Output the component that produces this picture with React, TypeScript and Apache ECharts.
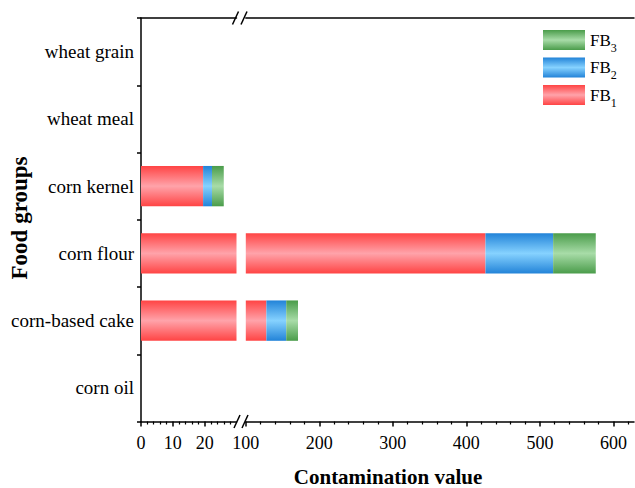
import React, { useEffect, useRef } from 'react';
import * as echarts from 'echarts';

// Food groups, bottom to top on the category axis
const categories = ['corn oil', 'corn-based cake', 'corn flour', 'corn kernel', 'wheat meal', 'wheat grain'];

// Contamination value per group and fraction
const fb1 = [null, 128, 426, 19.5, null, null];
const fb2 = [null, 27, 92, 2.8, null, null];
const fb3 = [null, 16, 58, 3.7, null, null];

// Broken x axis: low segment 0–30, high segment 100–628
const lowRange = [0, 30];
const highRange = [100, 628];
const lowTicks = [0, 10, 20];
const lowMinorTicks = [2, 4, 6, 8, 12, 14, 16, 18, 22, 24, 26, 28];
const highTicks = [100, 200, 300, 400, 500, 600];
const highMinorTicks = [120, 140, 160, 180, 220, 240, 260, 280, 320, 340, 360, 380, 420, 440, 460, 480, 520, 540, 560, 580, 620];

const legendOrder = ['FB3', 'FB2', 'FB1'];

const FONT = "'Liberation Serif', 'Times New Roman', serif";
const INK = '#000';

const band = (edge: string, mid: string) =>
  new echarts.graphic.LinearGradient(0, 0, 0, 1, [
    { offset: 0, color: edge },
    { offset: 0.5, color: mid },
    { offset: 1, color: edge },
  ]);

const fills: Record<string, any> = {
  FB1: band('#ff4444', '#ffa3aa'),
  FB2: band('#2283d8', '#86d2ff'),
  FB3: band('#4a9c4a', '#a8dca8'),
};

const seriesData: Record<string, (number | null)[]> = { FB1: fb1, FB2: fb2, FB3: fb3 };

export default function App() {
  const ref = useRef<HTMLDivElement>(null);

  useEffect(() => {
    if (!ref.current) return;
    const chart = echarts.init(ref.current, undefined, { renderer: 'svg' });

    const grids = [
      { left: 141, top: 18, width: 95.5, height: 403.5 },
      { left: 245.8, top: 18, width: 388.2, height: 403.5 },
    ];

    const axisLine = { show: true, lineStyle: { color: INK, width: 1.5 } };

    const segmentAxes = (gridIndex: number, range: number[], major: number[], minor: number[]) => [
      {
        type: 'value',
        gridIndex,
        position: 'bottom',
        min: range[0],
        max: range[1],
        axisLine,
        axisTick: { show: true, inside: false, length: 5, customValues: major, lineStyle: { color: INK, width: 1.5 } },
        axisLabel: { show: true, customValues: major, margin: 12, fontSize: 18, color: INK, fontFamily: FONT },
        splitLine: { show: false },
      },
      {
        type: 'value',
        gridIndex,
        position: 'bottom',
        min: range[0],
        max: range[1],
        axisLine: { show: false },
        axisTick: { show: true, inside: false, length: 3, customValues: minor, lineStyle: { color: INK, width: 1.2 } },
        axisLabel: { show: false },
        splitLine: { show: false },
      },
      {
        type: 'value',
        gridIndex,
        position: 'top',
        min: range[0],
        max: range[1],
        axisLine,
        axisTick: { show: false },
        axisLabel: { show: false },
        splitLine: { show: false },
      },
    ];

    const xAxis = [
      ...segmentAxes(0, lowRange, lowTicks, lowMinorTicks),
      ...segmentAxes(1, highRange, highTicks, highMinorTicks),
    ];

    const yAxis = [
      {
        type: 'category',
        gridIndex: 0,
        data: categories,
        axisLine,
        axisTick: { show: true, inside: false, length: 4, lineStyle: { color: INK, width: 1.5 } },
        axisLabel: { fontSize: 19, color: INK, margin: 7, fontFamily: FONT },
        splitLine: { show: false },
      },
      {
        type: 'category',
        gridIndex: 1,
        data: categories,
        show: false,
      },
    ];

    const series: any[] = [];
    [
      { xAxisIndex: 0, yAxisIndex: 0, stack: 'low' },
      { xAxisIndex: 3, yAxisIndex: 1, stack: 'high' },
    ].forEach((seg) => {
      ['FB1', 'FB2', 'FB3'].forEach((name) => {
        series.push({
          name,
          type: 'bar',
          stack: seg.stack,
          xAxisIndex: seg.xAxisIndex,
          yAxisIndex: seg.yAxisIndex,
          barWidth: '60%',
          clip: true,
          itemStyle: { color: fills[name] },
          data: seriesData[name],
        });
      });
    });

    // "//" break marks on the bottom axis and the top frame line
    const slash = (cx: number, cy: number) => ({
      type: 'line',
      shape: { x1: cx - 3, y1: cy + 6.5, x2: cx + 3, y2: cy - 6.5 },
      style: { stroke: INK, lineWidth: 1.5 },
    });

    chart.setOption({
      animation: false,
      textStyle: { fontFamily: FONT },
      grid: grids,
      xAxis,
      yAxis,
      series,
      legend: {
        data: legendOrder,
        orient: 'vertical',
        left: 543,
        top: 26.5,
        padding: 0,
        itemWidth: 42,
        itemHeight: 20,
        itemGap: 0.5,
        icon: 'rect',
        selectedMode: false,
        formatter: (name: string) => `{a|FB}{b|${name.slice(2)}}`,
        textStyle: {
          color: INK,
          fontFamily: FONT,
          fontSize: 17,
          rich: {
            a: { fontSize: 17, lineHeight: 20, color: INK, fontFamily: FONT },
            b: { fontSize: 12, lineHeight: 12, padding: [15, 0, 0, 0], color: INK, fontFamily: FONT },
          },
        },
      },
      graphic: [
        slash(235.5, 18),
        slash(244, 18),
        slash(237, 421.5),
        slash(245, 421.5),
        {
          type: 'text',
          x: 388,
          y: 477,
          style: {
            text: 'Contamination value',
            font: `bold 21px ${FONT}`,
            lineHeight: 18,
            fill: INK,
            align: 'center',
            verticalAlign: 'middle',
          },
        },
        {
          type: 'text',
          x: 19,
          y: 218,
          rotation: Math.PI / 2,
          style: {
            text: 'Food groups',
            font: `bold 23px ${FONT}`,
            fill: INK,
            align: 'center',
            verticalAlign: 'middle',
          },
        },
      ],
    });

    return () => chart.dispose();
  }, []);

  return (
    <div
      ref={ref}
      style={{ position: 'absolute', left: 0, top: 0, width: 635, height: 488, background: '#fff' }}
    />
  );
}
